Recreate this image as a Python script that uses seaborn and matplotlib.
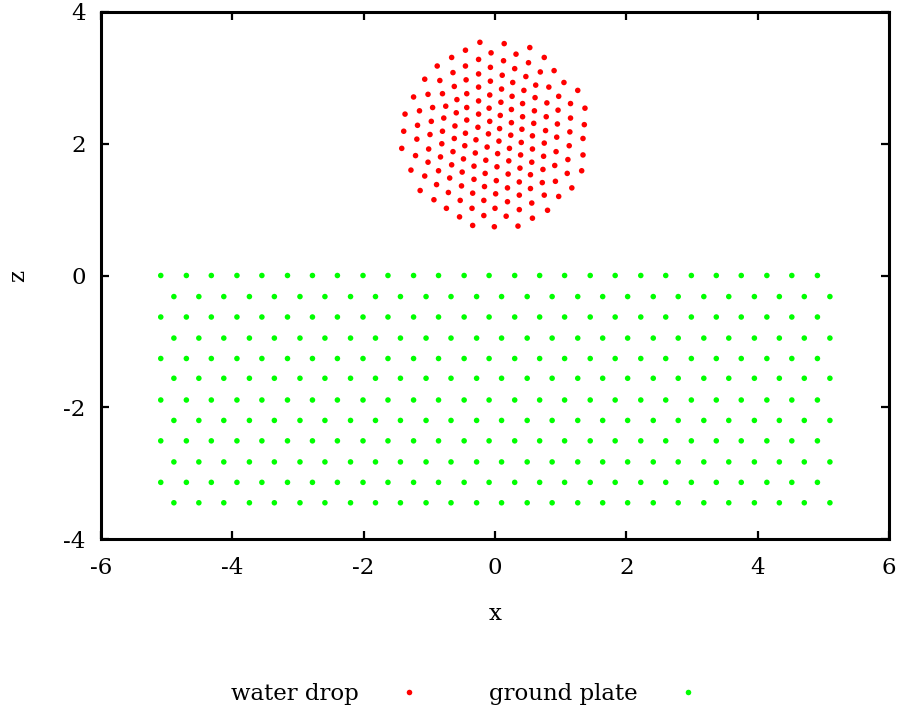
import numpy as np
import pandas as pd
import matplotlib
matplotlib.use("Agg")
import matplotlib.pyplot as plt
from matplotlib.lines import Line2D
import seaborn as sns

# ---------------- data ----------------
drop_x = [
    -0.23, -0.06, -0.07, -0.07, -0.08, -0.09, -0.08, -0.10,
    -0.25, -0.25, -0.25, -0.25, -0.25, -0.26, -0.29,
    -0.45, -0.45, -0.44, -0.43, -0.43, -0.43, -0.45,
    -0.66, -0.64, -0.62, -0.58, -0.59, -0.61, -0.62,
    -0.88, -0.84, -0.80, -0.75, -0.78, -0.80,
    -1.07, -1.02, -0.95, -0.97, -0.99,
    -1.24, -1.15, -1.18, -1.19,
    -1.37, -1.39,
    0.14, 0.13, 0.11, 0.10, 0.09, 0.08, 0.07, 0.06,
    0.32, 0.30, 0.27, 0.26, 0.25, 0.25, 0.24,
    0.53, 0.51, 0.47, 0.44, 0.42, 0.42, 0.41,
    0.75, 0.69, 0.62, 0.61, 0.60, 0.59, 0.57,
    0.90, 0.82, 0.79, 0.78, 0.77,
    1.05, 0.97, 0.96, 0.95, 0.94,
    1.26, 1.15, 1.15, 1.14,
    1.37, 1.36, 1.34,
    -1.42, -1.01, -0.81, -0.46, -0.12, -1.21, -0.64, -0.30, 0.04,
    -0.83, -0.48, -0.14, -1.02, -0.66, -0.32, 0.03, -1.28, -0.86,
    -0.50, -0.15, -1.07, -0.69, -0.32, 0.02, -0.89, -0.51, -0.16,
    -1.14, -0.71, -0.34, 0.01, -0.93, -0.53, -0.17, -0.74, -0.35,
    0.00, -0.54, -0.17, -0.34, -0.01,
    0.22, 0.40, 0.57, 0.75, 0.93, 1.13, 1.34, 0.39, 0.74, 1.11,
    0.21, 0.56, 0.91, 1.32, 0.38, 0.73, 1.10, 0.20, 0.54, 0.92,
    0.37, 0.72, 1.17, 0.19, 0.54, 0.97, 0.37, 0.75, 0.19, 0.56,
    0.37, 0.80, 0.17, 0.57, 0.35,
]
drop_z = [
    3.54, 3.38, 3.16, 2.95, 2.74, 2.54, 2.34, 2.15,
    3.28, 3.06, 2.86, 2.65, 2.45, 2.25, 2.06,
    3.42, 3.18, 2.97, 2.76, 2.55, 2.36, 2.16,
    3.31, 3.08, 2.87, 2.67, 2.47, 2.27, 2.08,
    3.18, 2.96, 2.76, 2.57, 2.39, 2.19,
    2.98, 2.75, 2.55, 2.34, 2.14,
    2.71, 2.50, 2.28, 2.07,
    2.45, 2.19,
    3.52, 3.26, 3.04, 2.83, 2.63, 2.43, 2.23, 2.04,
    3.36, 3.14, 2.93, 2.72, 2.52, 2.32, 2.13,
    3.46, 3.23, 3.02, 2.81, 2.61, 2.41, 2.22,
    3.31, 3.09, 2.89, 2.70, 2.50, 2.31, 2.12,
    3.11, 2.86, 2.62, 2.41, 2.20,
    2.93, 2.72, 2.51, 2.30, 2.10,
    2.81, 2.61, 2.39, 2.18,
    2.54, 2.29, 2.08,
    1.93, 1.92, 2.00, 1.97, 1.95, 1.82, 1.88, 1.86, 1.85,
    1.80, 1.77, 1.75, 1.72, 1.68, 1.66, 1.65, 1.60, 1.59,
    1.57, 1.55, 1.51, 1.48, 1.46, 1.44, 1.38, 1.36, 1.35,
    1.29, 1.26, 1.25, 1.24, 1.15, 1.14, 1.14, 1.02, 1.02,
    1.02, 0.89, 0.91, 0.76, 0.74,
    1.93, 2.02, 1.92, 2.01, 1.88, 1.97, 1.83, 1.83, 1.81, 1.76,
    1.74, 1.72, 1.67, 1.59, 1.63, 1.61, 1.55, 1.54, 1.53, 1.43,
    1.42, 1.41, 1.33, 1.33, 1.32, 1.20, 1.22, 1.22, 1.12, 1.10,
    1.00, 0.99, 0.90, 0.87, 0.75,
]

plate_row_z = [0.00, -0.32, -0.63, -0.95, -1.26, -1.56,
               -1.89, -2.20, -2.51, -2.83, -3.14, -3.45]
plate_x_even = [-5.09, -4.70, -4.32, -3.93, -3.55, -3.16, -2.78, -2.40, -2.01,
                -1.63, -1.24, -0.86, -0.47, -0.09, 0.30, 0.68, 1.06, 1.45,
                1.83, 2.22, 2.60, 2.99, 3.37, 3.75, 4.14, 4.52, 4.91]
plate_x_odd = [-4.89, -4.51, -4.13, -3.74, -3.36, -2.97, -2.59, -2.20, -1.82,
               -1.44, -1.05, -0.67, -0.28, 0.10, 0.49, 0.87, 1.26, 1.64,
               2.02, 2.41, 2.79, 3.18, 3.56, 3.95, 4.33, 4.71, 5.10]

series_names = ["water drop", "ground plate"]
series_colors = ["#ff0000", "#00ff00"]
x_ticks = [-6, -4, -2, 0, 2, 4, 6]
z_ticks = [-4, -2, 0, 2, 4]

# ---------------- build table ----------------
rows = []
for x, z in zip(drop_x, drop_z):
    rows.append((x, z, series_names[0]))
for i, zr in enumerate(plate_row_z):
    xs = plate_x_even if i % 2 == 0 else plate_x_odd
    for x in xs:
        rows.append((x, zr, series_names[1]))
df = pd.DataFrame(rows, columns=["x", "z", "body"])

# ---------------- style ----------------
sns.set_theme(style="white")
plt.rcParams["font.family"] = ["DejaVu Serif"]
plt.rcParams["axes.unicode_minus"] = False
plt.rcParams["text.color"] = "black"
plt.rcParams["axes.labelcolor"] = "black"
plt.rcParams["xtick.color"] = "black"
plt.rcParams["ytick.color"] = "black"

FS = 16.5

fig = plt.figure(figsize=(9.03, 7.15), dpi=100)
ax = fig.add_axes([101 / 903, 1 - 539 / 715, (889 - 101) / 903, (539 - 12) / 715])

palette = dict(zip(series_names, series_colors))
sns.scatterplot(data=df, x="x", y="z", hue="body", palette=palette,
                s=16, linewidth=0, legend=False, ax=ax, zorder=3)

ax.set_xlim(-6, 6)
ax.set_ylim(-4, 4)
ax.set_xticks(x_ticks)
ax.set_yticks(z_ticks)
ax.set_xticklabels([str(t) for t in x_ticks])
ax.set_yticklabels([str(t) for t in z_ticks])
ax.set_xlabel("x", fontsize=FS, labelpad=17, color="black")
ax.set_ylabel("z", fontsize=FS, labelpad=25, rotation=90, color="black")

for sp in ax.spines.values():
    sp.set_visible(True)
    sp.set_color("black")
    sp.set_linewidth(2.2)

ax.tick_params(axis="both", which="major", direction="in", length=6, width=1.6,
               labelsize=FS, color="black", labelcolor="black",
               top=True, right=True, bottom=True, left=True)
ax.tick_params(axis="x", pad=13)
ax.tick_params(axis="y", pad=11)
ax.grid(False)
ax.set_facecolor("white")

handles = [Line2D([0], [0], marker="o", linestyle="none", markersize=4,
                  markerfacecolor=c, markeredgewidth=0) for c in series_colors]
leg_y = 1 - 694 / 715
leg1 = fig.legend([handles[0]], [series_names[0]], loc="center left",
                  bbox_to_anchor=(231 / 903, leg_y), frameon=False, markerfirst=False,
                  fontsize=FS, handlelength=1.0, handletextpad=1.68,
                  borderpad=0, borderaxespad=0)
leg2 = fig.legend([handles[1]], [series_names[1]], loc="center left",
                  bbox_to_anchor=(489 / 903, leg_y), frameon=False, markerfirst=False,
                  fontsize=FS, handlelength=1.0, handletextpad=1.68,
                  borderpad=0, borderaxespad=0)
for lg in (leg1, leg2):
    for t in lg.get_texts():
        t.set_color("black")

fig.savefig("out.png", dpi=100, facecolor="white")
